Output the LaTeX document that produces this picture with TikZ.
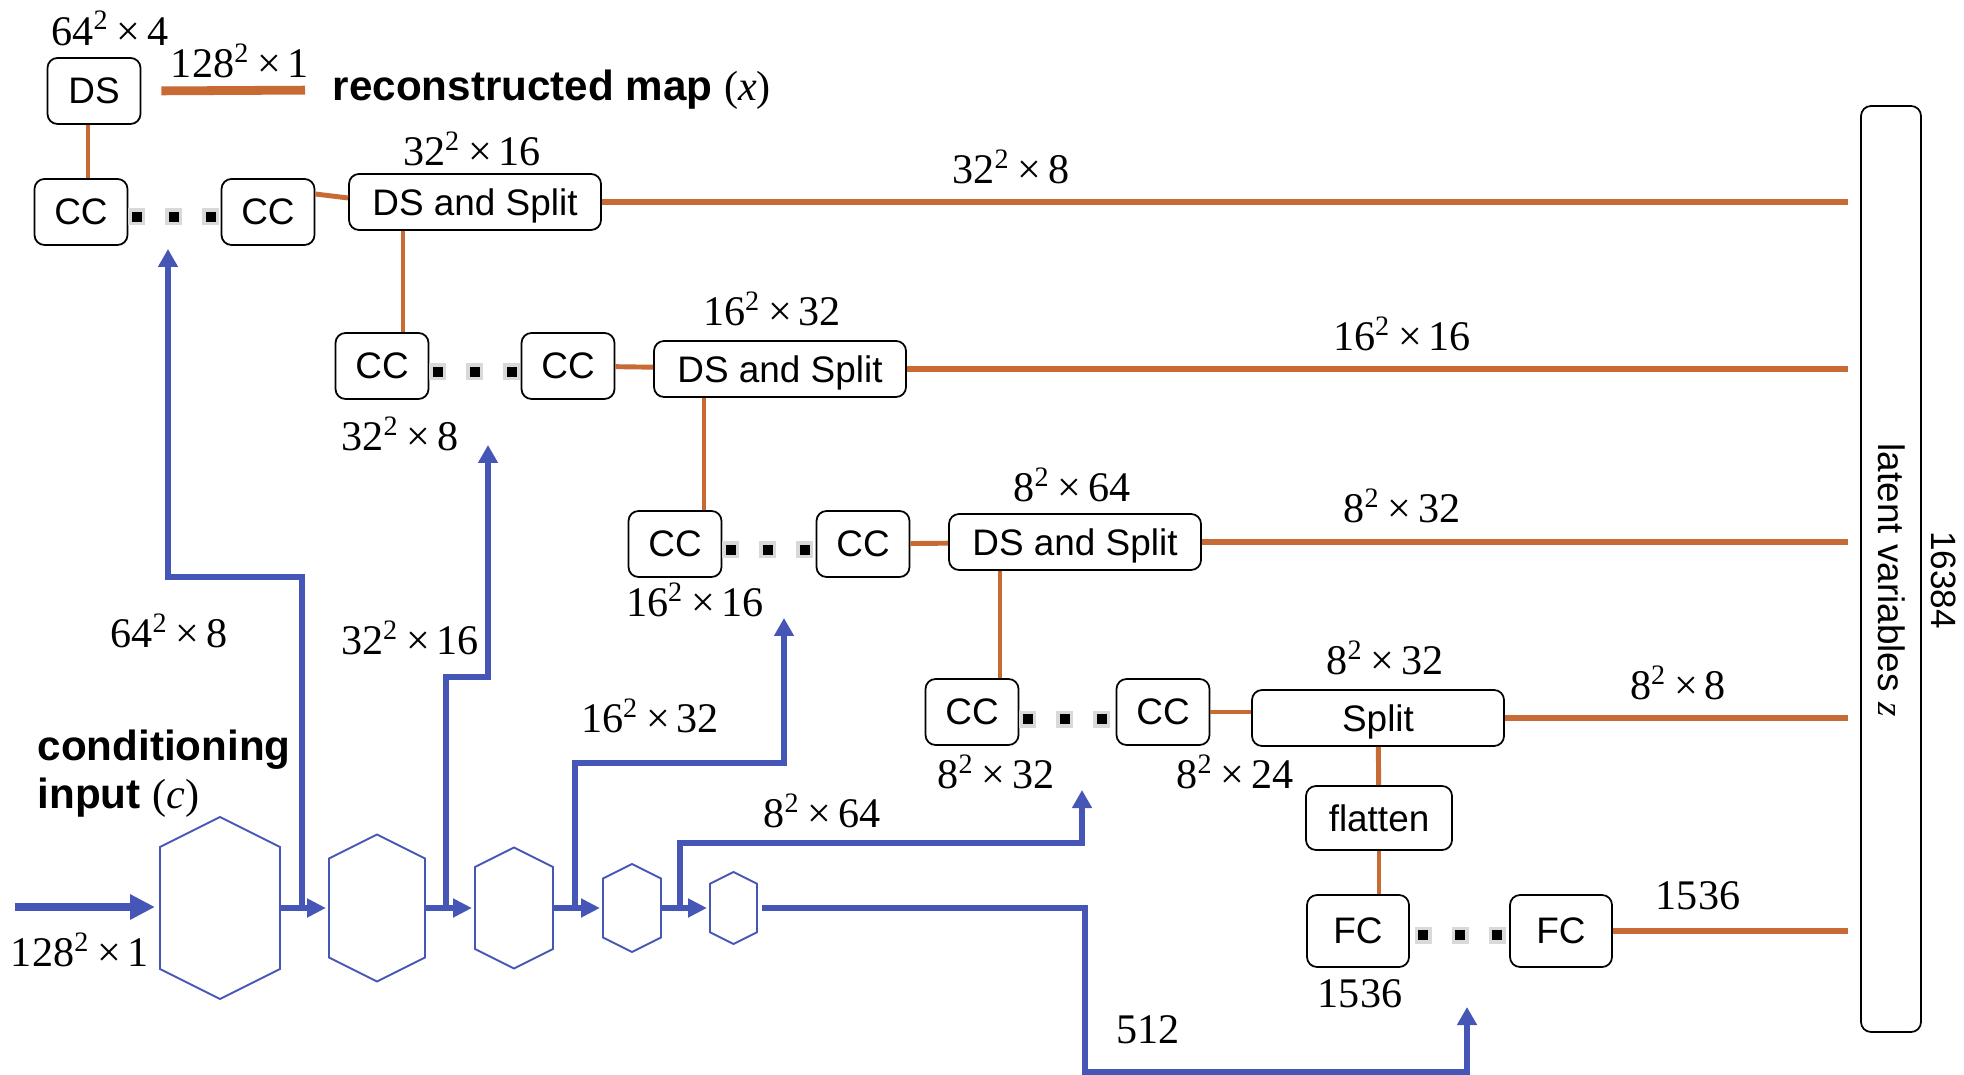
\documentclass[tikz,border=0pt]{standalone}
\usepackage{fontspec}
\setmainfont{Liberation Serif}
\setsansfont{Liberation Sans}
\usetikzlibrary{arrows.meta}

\definecolor{netblue}{RGB}{70,86,182}
\definecolor{flowor}{RGB}{200,106,52}

\newcommand{\dimsq}[2]{#1\textsuperscript{2}\,×\,#2}

\tikzset{
    box/.style={draw=black, line width=0.5pt, rounded corners=0.1cm, inner sep=0pt, text depth=0pt,
        font=\sffamily\fontsize{10.5}{12}\selectfont},
    cc/.style={box, minimum width=0.93cm, minimum height=0.66cm},
    dss/.style={box, minimum width=2.52cm, minimum height=0.56cm},
    fc/.style={box, minimum width=1.02cm, minimum height=0.72cm},
    lab/.style={inner sep=0pt, font=\fontsize{12}{14}\selectfont},
    heading/.style={inner sep=0pt, anchor=west, align=left,
        font=\sffamily\bfseries\fontsize{12}{13.7}\selectfont},
    link/.style={draw=flowor, line width=1.4pt},
    zline/.style={draw=flowor, line width=1.7pt},
    ccdots/.style={line width=0.1cm, dash pattern=on 0pt off 0.035cm on 0.1cm off 0.235cm,
        preaction={draw=black!15, line width=0.17cm, dash pattern=on 0.17cm off 0.2cm}},
    feed/.style={draw=netblue, line width=1.9pt, -{Triangle[width=0.19cm,length=0.18cm]}},
    hop/.style={feed, -{Triangle[width=0.18cm,length=0.19cm]}, shorten >=0.03cm},
    hexline/.style={draw=netblue, line width=0.55pt},
    pics/hexnet/.style args={#1/#2}{code={
        \draw[hexline] (0,#2) -- (#1,{#2-#1/2}) -- (#1,{-#2+#1/2}) -- (0,-#2)
            -- (-#1,{-#2+#1/2}) -- (-#1,{#2-#1/2}) -- cycle;
        \coordinate (-w) at (-#1,0);
        \coordinate (-e) at (#1,0);
    }}
}

\begin{document}
\begin{tikzpicture}
        \useasboundingbox (0,0) rectangle (19.64,-10.75);

        \node[cc] (ds) at (0.94,-0.91) {DS};
        \node[lab] (dsin) at (1.10,-0.285) {\dimsq{64}{4}};
        \node[lab] (recsize) at (2.40,-0.61) {\dimsq{128}{1}};
        \node[heading] (recon) at (3.32,-0.90) {reconstructed map {\rmfamily\mdseries(\textit{x})}};

        \node[cc] (cc1) at (0.81,-2.12) {CC};
        \node[cc] (cc2) at (2.68,-2.12) {CC};
        \node[dss] (dss1) at (4.75,-2.02) {DS and Split};
        \node[lab] (dss1in) at (4.72,-1.49) {\dimsq{32}{16}};
        \node[lab] (z1) at (10.11,-1.67) {\dimsq{32}{8}};

        \node[cc] (cc3) at (3.82,-3.66) {CC};
        \node[cc] (cc4) at (5.68,-3.66) {CC};
        \node[dss] (dss2) at (7.80,-3.69) {DS and Split};
        \node[lab] (dss2in) at (7.72,-3.09) {\dimsq{16}{32}};
        \node[lab] (cc3in) at (4.00,-4.34) {\dimsq{32}{8}};
        \node[lab] (z2) at (14.02,-3.34) {\dimsq{16}{16}};

        \node[cc] (cc5) at (6.75,-5.44) {CC};
        \node[cc] (cc6) at (8.63,-5.44) {CC};
        \node[dss] (dss3) at (10.75,-5.42) {DS and Split};
        \node[lab] (dss3in) at (10.72,-4.85) {\dimsq{8}{64}};
        \node[lab] (cc5in) at (6.95,-6.00) {\dimsq{16}{16}};
        \node[lab] (z3) at (14.02,-5.06) {\dimsq{8}{32}};

        \node[cc] (cc7) at (9.72,-7.12) {CC};
        \node[cc] (cc8) at (11.63,-7.12) {CC};
        \node[dss] (split) at (13.78,-7.18) {Split};
        \node[lab] (splitin) at (13.85,-6.58) {\dimsq{8}{32}};
        \node[lab] (cc7in) at (9.96,-7.72) {\dimsq{8}{32}};
        \node[lab] (cc8out) at (12.35,-7.72) {\dimsq{8}{24}};
        \node[lab] (z4) at (16.78,-6.83) {\dimsq{8}{8}};

        \node[box, minimum width=1.46cm, minimum height=0.64cm] (flat) at (13.79,-8.18) {flatten};
        \node[fc] (fc1) at (13.58,-9.31) {FC};
        \node[fc] (fc2) at (15.61,-9.31) {FC};
        \node[lab] (fc1in) at (13.60,-9.94) {1536};
        \node[lab] (z5) at (16.98,-8.96) {1536};

        \node[box, minimum width=0.60cm, minimum height=9.26cm] (zbox) at (18.91,-5.69) {};
        \node[rotate=-90, inner sep=0pt, font=\sffamily\fontsize{10.5}{12}\selectfont] (zlab) at (18.92,-5.80) {latent variables {\rmfamily\itshape z}};
        \node[rotate=-90, inner sep=0pt, font=\sffamily\fontsize{10}{12}\selectfont] (zsize) at (19.44,-5.80) {16384};
        \coordinate (zin) at (18.48,0);

        \draw[zline, line width=2.5pt, shorten <=0.2cm, shorten >=0.27cm] (ds.east) -- (recon.west);
        \draw[link] ([xshift=-0.06cm]ds.south) -- ([xshift=-0.06cm]ds.south |- cc1.north);
        \draw[link] ([yshift=0.18cm]cc2.east) -- ([yshift=0.04cm]dss1.west);
        \draw[link] ([xshift=0.21cm]cc3.north) -- ([xshift=0.21cm]dss1.south -| cc3.north);
        \draw[link] (cc4) -- (dss2);
        \draw[link] ([xshift=0.29cm]cc5.north) -- ([xshift=0.29cm]dss2.south -| cc5.north);
        \draw[link] (cc6) -- (dss3);
        \draw[link] ([xshift=0.28cm]cc7.north) -- ([xshift=0.28cm]dss3.south -| cc7.north);
        \draw[link] (cc8.east) -- (cc8.east -| split.west);
        \draw[link] (split) -- (flat);
        \draw[link] (flat.south) -- (flat.south |- fc1.north);

        \draw[zline] (dss1.east) -- (dss1.east -| zin);
        \draw[zline] (dss2.east) -- (dss2.east -| zin);
        \draw[zline] (dss3.east) -- (dss3.east -| zin);
        \draw[zline] (split.east) -- (split.east -| zin);
        \draw[zline] (fc2.east) -- (fc2.east -| zin);

        \draw[ccdots] ([yshift=-0.05cm]cc1.east) -- ([yshift=-0.05cm]cc2.west);
        \draw[ccdots] ([yshift=-0.06cm]cc3.east) -- ([yshift=-0.06cm]cc4.west);
        \draw[ccdots] ([yshift=-0.06cm]cc5.east) -- ([yshift=-0.06cm]cc6.west);
        \draw[ccdots] ([yshift=-0.07cm]cc7.east) -- ([yshift=-0.07cm]cc8.west);
        \draw[ccdots] ([xshift=0.05cm,yshift=-0.04cm]fc1.east) -- ([yshift=-0.04cm]fc2.west);

        \node[heading] (cond) at (0.37,-7.74) {conditioning\\input {\rmfamily\mdseries(\textit{c})}};
        \node[lab] (insize) at (0.80,-9.50) {\dimsq{128}{1}};

        \pic (h1) at (2.20,-9.08) {hexnet=0.60/0.91};
        \pic (h2) at (3.77,-9.08) {hexnet=0.48/0.735};
        \pic (h3) at (5.14,-9.08) {hexnet=0.39/0.605};
        \pic (h4) at (6.32,-9.08) {hexnet=0.29/0.44};
        \pic (h5) at (7.335,-9.08) {hexnet=0.235/0.36};

        \coordinate (cin) at (0.15,-9.07);
        \draw[feed, line width=2.3pt, -{Triangle[width=0.24cm,length=0.25cm]}, shorten >=0.05cm] (cin) -- (cin -| h1-w);
        \draw[hop] (h1-e) -- (h2-w);
        \draw[hop] (h2-e) -- (h3-w);
        \draw[hop] (h3-e) -- (h4-w);
        \draw[hop] (h4-e) -- (h5-w);

        \coordinate (b1) at (3.02,-9.08);
        \coordinate (b1top) at (1.68,-2.49);
        \draw[feed] (b1) -- ++(0,3.31) -| (b1top);
        \node[lab] (b1size) at (1.69,-6.31) {\dimsq{64}{8}};

        \coordinate (b2) at (4.46,-9.08);
        \coordinate (b2top) at (4.88,-4.45);
        \draw[feed] (b2) -- ++(0,2.31) -| (b2top);
        \node[lab] (b2size) at (4.10,-6.38) {\dimsq{32}{16}};

        \coordinate (b3) at (5.75,-9.08);
        \coordinate (b3top) at (7.84,-6.18);
        \draw[feed] (b3) -- ++(0,1.45) -| (b3top);
        \node[lab] (b3size) at (6.50,-7.16) {\dimsq{16}{32}};

        \coordinate (b4) at (6.80,-9.08);
        \coordinate (b4top) at (10.82,-7.90);
        \draw[feed] (b4) -- ++(0,0.65) -| (b4top);
        \node[lab] (b4size) at (8.22,-8.11) {\dimsq{8}{64}};

        \coordinate (b5top) at (14.67,-10.07);
        \draw[feed] ([xshift=0.05cm]h5-e) -| (10.85,-10.72) -| (b5top);
        \node[lab] (b5size) at (11.48,-10.30) {512};
    \end{tikzpicture}
\end{document}
